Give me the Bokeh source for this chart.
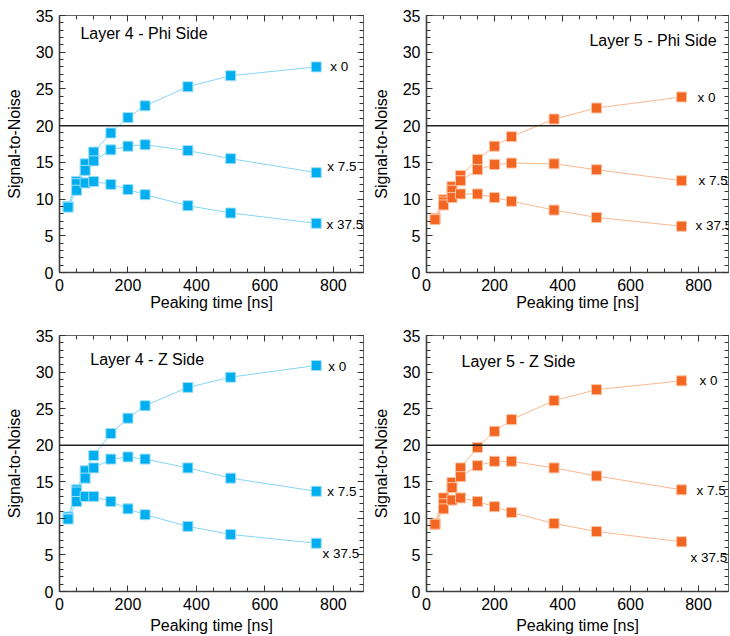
from bokeh.plotting import figure
from bokeh.layouts import column, row
from bokeh.models import (Range1d, LinearAxis, SingleIntervalTicker, Span, Label,
                          ColumnDataSource, CustomJSTickFormatter)
from bokeh.embed import file_html
from bokeh.resources import INLINE

# ---------------- data ----------------
peaking_ns = [25, 50, 75, 100, 150, 200, 250, 375, 500, 750]
series_names = ["x 0", "x 7.5", "x 37.5"]

l4_phi_x0 = [9.0, 12.4, 14.8, 16.4, 19.0, 21.1, 22.7, 25.3, 26.8, 28.0]
l4_phi_x75 = [9.0, 12.1, 13.9, 15.2, 16.7, 17.2, 17.4, 16.6, 15.5, 13.6]
l4_phi_x375 = [8.9, 11.2, 12.2, 12.4, 12.0, 11.3, 10.6, 9.1, 8.1, 6.7]

l5_phi_x0 = [7.4, 9.9, 11.7, 13.2, 15.4, 17.2, 18.5, 20.9, 22.4, 23.9]
l5_phi_x75 = [7.3, 9.6, 11.2, 12.5, 14.0, 14.7, 14.9, 14.8, 14.0, 12.5]
l5_phi_x375 = [7.2, 9.2, 10.2, 10.7, 10.7, 10.2, 9.7, 8.5, 7.5, 6.3]

l4_z_x0 = [10.2, 13.9, 16.5, 18.6, 21.6, 23.7, 25.4, 27.9, 29.3, 30.9]
l4_z_x75 = [10.0, 13.6, 15.5, 16.9, 18.1, 18.4, 18.1, 16.9, 15.5, 13.7]
l4_z_x375 = [9.9, 12.3, 13.0, 13.0, 12.3, 11.3, 10.5, 8.9, 7.8, 6.6]

l5_z_x0 = [9.3, 12.8, 14.9, 16.9, 19.7, 21.9, 23.5, 26.1, 27.6, 28.8]
l5_z_x75 = [9.2, 12.0, 14.2, 15.7, 17.2, 17.8, 17.8, 16.9, 15.8, 13.9]
l5_z_x375 = [9.2, 11.3, 12.5, 12.8, 12.3, 11.6, 10.8, 9.3, 8.2, 6.8]

threshold = 20
y_max = 35
x_max = 888

FONT = "Liberation Sans"
BLUE = "#00aeef"
BLUE_LINE = "#86d5f5"
BLUE_EDGE = "#9fdff8"
ORANGE = "#f26522"
ORANGE_LINE = "#f9b890"
ORANGE_EDGE = "#fbc4a2"


def make_panel(title, series, colors, fw, fh, bl, br, bt, bb, xlab_standoff,
               title_pos, label_pos):
    marker_c, line_c, edge_c = colors
    p = figure(frame_width=fw, frame_height=fh, output_backend="svg",
               toolbar_location=None, x_range=Range1d(0, x_max),
               y_range=Range1d(0, y_max), min_border_left=bl,
               min_border_right=br, min_border_top=bt, min_border_bottom=bb,
               x_axis_location=None, y_axis_location=None)
    p.grid.visible = False
    p.outline_line_color = None
    p.background_fill_color = "white"
    p.border_fill_color = "white"

    def style(ax, main):
        ax.major_tick_in = 6
        ax.major_tick_out = 0
        ax.minor_tick_in = 4
        ax.minor_tick_out = 0
        ax.major_tick_line_color = "#333333"
        ax.minor_tick_line_color = "#333333"
        if main:
            ax.axis_line_color = "#404040"
            ax.axis_line_width = 1.6
            ax.major_label_text_font = FONT
            ax.major_label_text_font_size = "16px"
            ax.major_label_text_color = "black"
            ax.axis_label_text_font = FONT
            ax.axis_label_text_font_size = "16px"
            ax.axis_label_text_font_style = "normal"
            ax.axis_label_text_color = "black"
        else:
            ax.axis_line_color = "#666666"
            ax.axis_line_width = 1
            ax.formatter = CustomJSTickFormatter(code="return ''")
            ax.major_label_standoff = 0
            ax.major_label_text_font_size = "0px"

    xb = LinearAxis(ticker=SingleIntervalTicker(interval=200, num_minor_ticks=4),
                    axis_label="Peaking time [ns]")
    style(xb, True)
    xb.major_label_standoff = 6
    xb.axis_label_standoff = xlab_standoff
    p.add_layout(xb, "below")

    yl = LinearAxis(ticker=SingleIntervalTicker(interval=5, num_minor_ticks=5),
                    axis_label="Signal-to-Noise")
    style(yl, True)
    yl.major_label_standoff = 6
    yl.axis_label_standoff = 10
    p.add_layout(yl, "left")

    xt = LinearAxis(ticker=SingleIntervalTicker(interval=200, num_minor_ticks=4))
    style(xt, False)
    p.add_layout(xt, "above")
    yr = LinearAxis(ticker=SingleIntervalTicker(interval=5, num_minor_ticks=5))
    style(yr, False)
    p.add_layout(yr, "right")

    p.add_layout(Span(location=threshold, dimension="width",
                      line_color="#222222", line_width=1.5))

    for vals in series:
        src = ColumnDataSource(dict(x=peaking_ns, y=vals))
        p.line("x", "y", source=src, line_color=line_c, line_width=1)
    for vals in series:
        src = ColumnDataSource(dict(x=peaking_ns, y=vals))
        p.scatter("x", "y", source=src, marker="square", size=10,
                  fill_color=marker_c, line_color=edge_c, line_width=1)

    for name, (lx, ly) in zip(series_names, label_pos):
        p.add_layout(Label(x=lx, y=ly, text=name, text_font=FONT,
                           text_font_size="13.5px", text_color="black",
                           text_baseline="middle", text_align="left"))
    p.add_layout(Label(x=title_pos[0], y=title_pos[1], text=title,
                       text_font=FONT, text_font_size="16px",
                       text_color="black", text_baseline="middle",
                       text_align="left"))
    return p


p1 = make_panel("Layer 4 - Phi Side", [l4_phi_x0, l4_phi_x75, l4_phi_x375],
                (BLUE, BLUE_LINE, BLUE_EDGE), 304, 257, 59, 2, 15, 56, 0,
                (61, 32.5), [(791, 28.0), (782, 14.4), (780, 6.5)])
p2 = make_panel("Layer 5 - Phi Side", [l5_phi_x0, l5_phi_x75, l5_phi_x375],
                (ORANGE, ORANGE_LINE, ORANGE_EDGE), 302, 257, 61, 1, 15, 56, 0,
                (479, 31.6), [(797, 23.9), (800, 12.5), (791, 6.4)])
p3 = make_panel("Layer 4 - Z Side", [l4_z_x0, l4_z_x75, l4_z_x375],
                (BLUE, BLUE_LINE, BLUE_EDGE), 304, 256, 59, 2, 7, 44, 4,
                (90, 31.7), [(785, 30.8), (782, 13.7), (768, 5.2)])
p4 = make_panel("Layer 5 - Z Side", [l5_z_x0, l5_z_x75, l5_z_x375],
                (ORANGE, ORANGE_LINE, ORANGE_EDGE), 302, 256, 61, 1, 6, 45, 4,
                (103, 31.4), [(803, 28.8), (794, 13.8), (776, 4.6)])

p3.add_layout(Label(x=-55, y=-4.2, text="4", text_font=FONT,
                    text_font_size="28px", text_font_style="bold italic",
                    text_color="#1a1ae6", text_baseline="top",
                    text_align="left"))

layout = column(row(p1, p2), row(p3, p4))

with open("out.html", "w") as f:
    f.write(file_html(layout, INLINE))
